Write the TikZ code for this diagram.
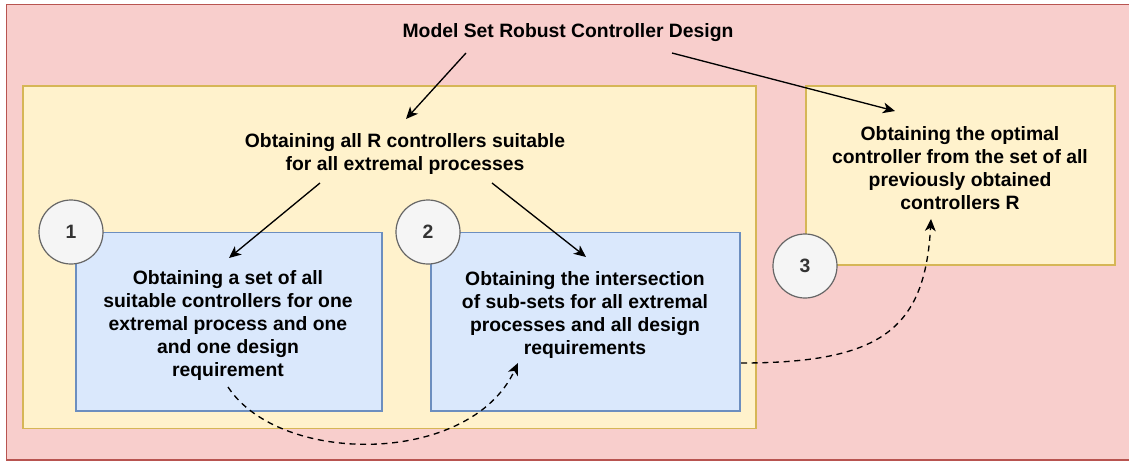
\documentclass[tikz,border=0pt]{standalone}
\usepackage{fontspec}
\setmainfont{Liberation Sans}
\usetikzlibrary{arrows.meta}

\definecolor{redfill}{HTML}{F8CECC}
\definecolor{redline}{HTML}{B85450}
\definecolor{yelfill}{HTML}{FFF2CC}
\definecolor{yelline}{HTML}{D6B656}
\definecolor{blufill}{HTML}{DAE8FC}
\definecolor{bluline}{HTML}{6C8EBF}
\definecolor{numfill}{HTML}{F5F5F5}
\definecolor{numline}{HTML}{666666}
\definecolor{numtext}{HTML}{333333}

\tikzset{
  txt/.style={font=\bfseries\fontsize{14.5}{17.25}\selectfont, align=center, inner sep=0pt},
  num/.style={circle, draw=numline, fill=numfill, line width=0.9pt, minimum size=48pt,
    inner sep=0pt, font=\bfseries\fontsize{14.5}{17}\selectfont, text=numtext},
  flow/.style={-{Stealth[length=9pt,width=8pt,inset=2.5pt]}, line width=1pt},
  flowdash/.style={flow, dash pattern=on 4.5pt off 3.5pt}
}

\begin{document}
\begin{tikzpicture}[x=0.75pt, y=-0.75pt]
      \useasboundingbox (0,0) rectangle (1129,461);

      % CADRES
      \filldraw[fill=redfill, draw=redline, line width=0.9pt] (6.5,4.5) rectangle (1135,460);
      \filldraw[fill=yelfill, draw=yelline, line width=0.9pt] (23,86) rectangle (756,428.5);
      \filldraw[fill=yelfill, draw=yelline, line width=0.9pt] (806,86) rectangle (1115,265);
      \filldraw[fill=blufill, draw=bluline, line width=0.9pt] (76,232.5) rectangle (382,411);
      \filldraw[fill=blufill, draw=bluline, line width=0.9pt] (431,232.5) rectangle (740,411);

      % TEXTES
      \node[txt] (title) at (568,32.5) {Model Set Robust Controller Design};
      \node[txt] (allctrl) at (405,154) {Obtaining all R controllers suitable\\for all extremal processes};
      \node[txt] (stageone) at (228,325.5) {Obtaining a set of all\\suitable controllers for one\\extremal process and one\\and one design\\requirement};
      \node[txt] (stagetwo) at (585,315) {Obtaining the intersection\\of sub-sets for all extremal\\processes and all design\\requirements};
      \node[txt] (optimal) at (960,168) {Obtaining the optimal\\controller from the set of all\\previously obtained\\controllers R};

      % NUMEROS
      \node[num] (numone) at (71,232) {1};
      \node[num] (numtwo) at (428,232) {2};
      \node[num] (numthree) at (805,266) {3};

      % EXTREMITES DES FLECHES
      \coordinate (titleL) at (466,53);
      \coordinate (titleR) at (672,53);
      \coordinate (allL) at (320,183);
      \coordinate (allR) at (492,183);
      \coordinate (oneB) at (228,387);
      \coordinate (twoR) at (741,363);
      \coordinate (allT) at (406,119);
      \coordinate (optT) at (895,111);
      \coordinate (oneT) at (229,258);
      \coordinate (twoT) at (586,257);
      \coordinate (twoB) at (518,363);
      \coordinate (optB) at (931,219);

      % FLECHES
      \draw[flow] (titleL) -- (allT);
      \draw[flow] (titleR) -- (optT);
      \draw[flow] (allL) -- (oneT);
      \draw[flow] (allR) -- (twoT);

      % FLECHES POINTILLEES
      \draw[flowdash] (oneB) .. controls (280,466) and (470,466) .. (twoB);
      \draw[flowdash] (twoR) .. controls (880,363) and (925,330) .. (optB);
\end{tikzpicture}
\end{document}
